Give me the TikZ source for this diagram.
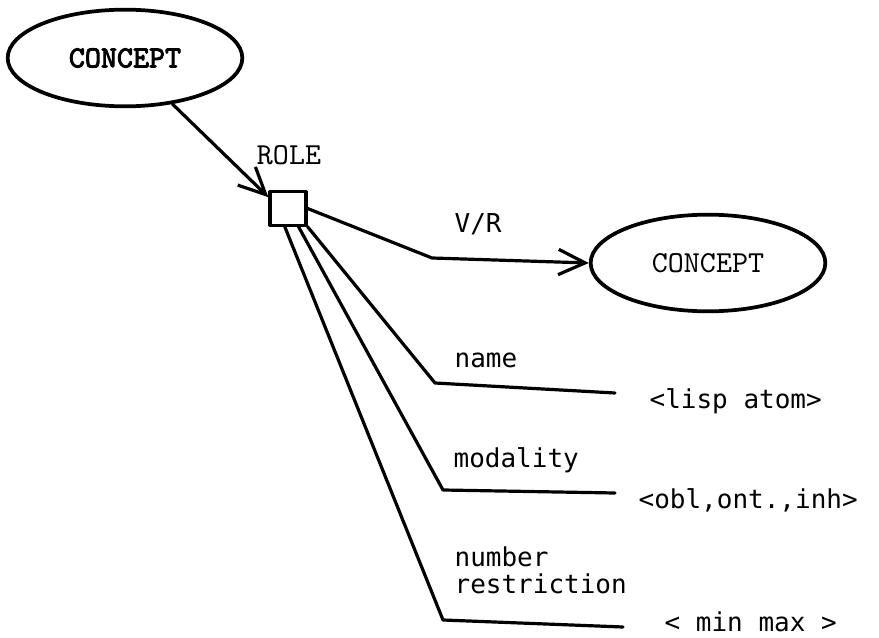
\documentclass[tikz,border=0pt]{standalone}
\usepackage{fontspec}
\setmonofont{DejaVu Sans Mono}
\newfontfamily\sermono{lmmono10-regular.otf}
\newfontfamily\sermonobf{lmmono10-regular.otf}[FakeBold=3]
\usetikzlibrary{arrows.meta,shapes.geometric}

\begin{document}
\begin{tikzpicture}[x=0.75pt, y=-0.75pt, line width=2.4pt, line cap=round, line join=round,
	concept/.style={draw, ellipse, line width=2.8pt, minimum width=176pt, minimum height=72.5pt, inner sep=0pt, font=\sermono\fontsize{22.9}{24}\selectfont},
	rolebox/.style={draw, rectangle, minimum width=27pt, minimum height=25pt, inner sep=0pt},
	lbl/.style={anchor=base west, inner sep=0pt, font=\ttfamily\fontsize{19.5}{22}\selectfont},
	barb/.style={-{Straight Barb[length=20pt,width=19pt]}}]
	\useasboundingbox (0,0) rectangle (879,638);
	% the two concepts and the role
	\node[concept, font=\sermonobf\fontsize{22.9}{24}\selectfont] (top) at (125,58) {CONCEPT};
	\node[concept] (val) at (708,263) {CONCEPT};
	\node[rolebox] (role) at (288,208.5) {};
	\node[anchor=base, inner sep=0pt, font=\sermono\fontsize{22.9}{24}\selectfont] (rolelbl) at (289,165) {ROLE};
	% facets
	\node[lbl] (vr) at (453,233) {V/R};
	\node[lbl] (nm) at (453,368) {name};
	\node[lbl] (lisp) at (648,408) {<lisp atom>};
	\node[lbl] (mod) at (452,467) {modality};
	\node[lbl] (obl) at (637,508) {<obl,ont.,inh>};
	\node[lbl] (num) at (453,566) {number};
	\node[lbl] (res) at (453,593) {restriction};
	\node[lbl] (mm) at (663,631) {< min max >};
	\coordinate (vrbend) at (432,258);
	\coordinate (nmbend) at (435,383);
	\coordinate (nmend) at (615,393);
	\coordinate (modbend) at (443,490);
	\coordinate (modend) at (615,493);
	\coordinate (numbend) at (443,620);
	\coordinate (numend) at (623,627);
	% links
	\draw[barb] (top) -- (role.150);
	\draw[barb] (role.east) -- (vrbend) -- (val.west);
	\draw (role.south east) -- (nmbend) -- (nmend);
	\draw (role.-60) -- (modbend) -- (modend);
	\draw (role.-100) -- (numbend) -- (numend);
\end{tikzpicture}
\end{document}
